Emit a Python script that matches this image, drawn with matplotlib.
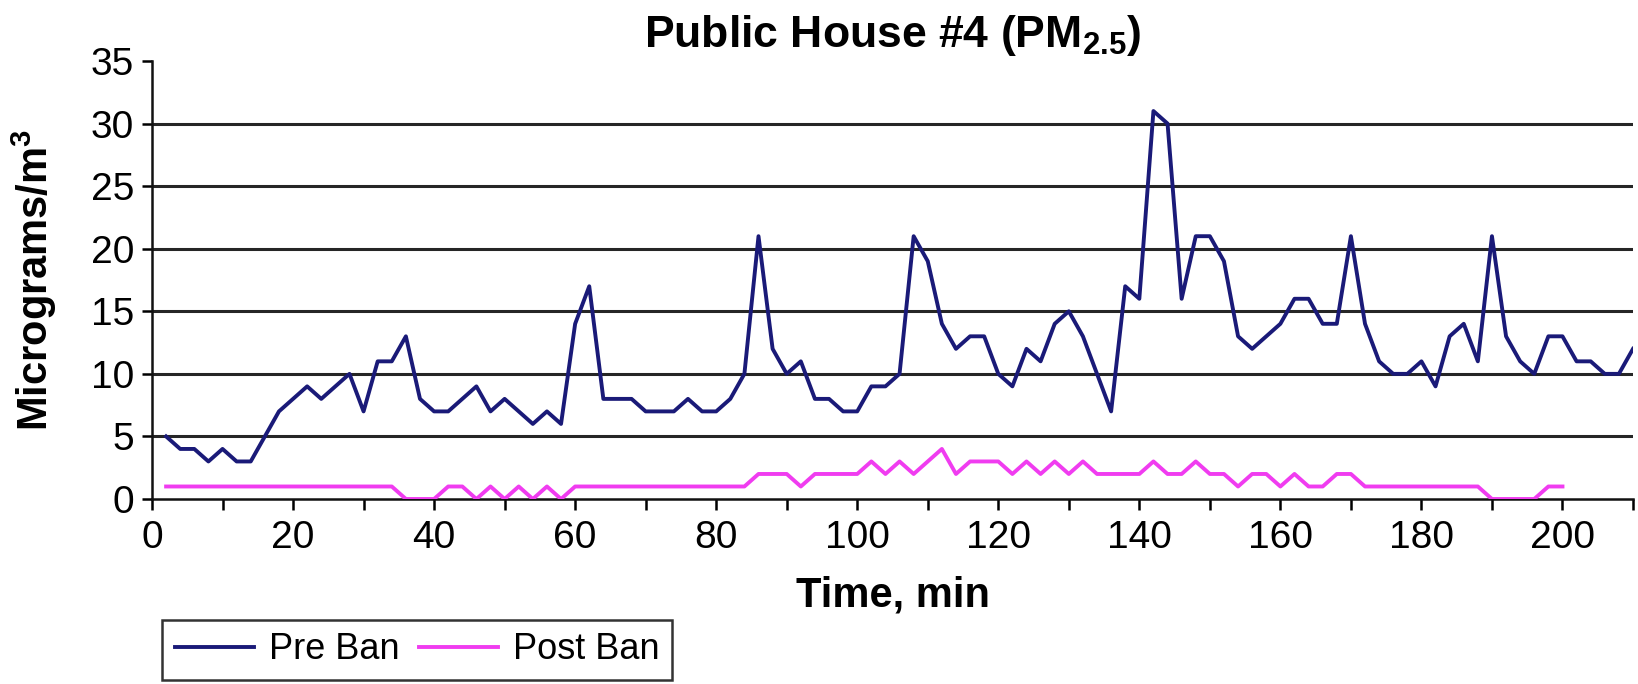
import numpy as np
import matplotlib
matplotlib.use('Agg')
import matplotlib.pyplot as plt

plt.rcParams['font.family'] = ['Liberation Sans', 'DejaVu Sans']
plt.rcParams['mathtext.fontset'] = 'custom'
plt.rcParams['mathtext.rm'] = 'Liberation Sans'
plt.rcParams['mathtext.bf'] = 'Liberation Sans:bold'

# readings every 2 min
pre_ban = [5, 4, 4, 3, 4, 3, 3, 5, 7, 8, 9, 8, 9, 10, 7, 11, 11, 13, 8, 7,
           7, 8, 9, 7, 8, 7, 6, 7, 6, 14, 17, 8, 8, 8, 7, 7, 7, 8, 7, 7,
           8, 10, 21, 12, 10, 11, 8, 8, 7, 7, 9, 9, 10, 21, 19, 14, 12, 13, 13, 10,
           9, 12, 11, 14, 15, 13, 10, 7, 17, 16, 31, 30, 16, 21, 21, 19, 13, 12, 13, 14,
           16, 16, 14, 14, 21, 14, 11, 10, 10, 11, 9, 13, 14, 11, 21, 13, 11, 10, 13, 13,
           11, 11, 10, 10, 12]
post_ban = [1, 1, 1, 1, 1, 1, 1, 1, 1, 1, 1, 1, 1, 1, 1, 1, 1, 0, 0, 0,
            1, 1, 0, 1, 0, 1, 0, 1, 0, 1, 1, 1, 1, 1, 1, 1, 1, 1, 1, 1,
            1, 1, 2, 2, 2, 1, 2, 2, 2, 2, 3, 2, 3, 2, 3, 4, 2, 3, 3, 3,
            2, 3, 2, 3, 2, 3, 2, 2, 2, 2, 3, 2, 2, 3, 2, 2, 1, 2, 2, 1,
            2, 1, 1, 2, 2, 1, 1, 1, 1, 1, 1, 1, 1, 1, 0, 0, 0, 0, 1, 1]
t_pre = np.arange(1, len(pre_ban) + 1) * 2
t_post = np.arange(1, len(post_ban) + 1) * 2

fig = plt.figure(figsize=(16.38, 6.84), dpi=100)
ax = fig.add_axes([152/1638, 1 - 499/684, 1481/1638, 438/684])

ax.plot(t_pre, pre_ban, color='#1a1a78', lw=2.8, label='Pre Ban', zorder=3)
ax.plot(t_post, post_ban, color='#f03cf0', lw=2.8, label='Post Ban', zorder=3)

ax.set_xlim(0, 210)
ax.set_ylim(0, 35)
ax.set_xticks(range(0, 201, 20))
ax.set_xticks(range(10, 211, 20), minor=True)
ax.set_yticks(range(0, 36, 5))
for y in range(5, 31, 5):
    ax.axhline(y, color='#262626', lw=2.2, zorder=1)

for s in ['top', 'right']:
    ax.spines[s].set_visible(False)
for s in ['left', 'bottom']:
    ax.spines[s].set_linewidth(1.8)
    ax.spines[s].set_color('#111111')

ax.tick_params(axis='x', which='both', direction='out', length=8, width=1.8, pad=7, labelsize=28)
ax.tick_params(axis='y', direction='out', length=7, width=1.8, pad=6, labelsize=28)

ax.set_title('Public House #4 (PM$_{\\mathbf{2.5}}$)', fontsize=32, fontweight='bold', pad=10)
ax.set_xlabel('Time, min', fontsize=30, fontweight='bold')
ax.xaxis.set_label_coords(0.5, -0.175)
ax.set_ylabel('Micrograms/m$^{\\mathbf{3}}$', fontsize=30, fontweight='bold')
ax.yaxis.set_label_coords(-0.063, 0.5)

leg = ax.legend(loc='lower left', bbox_to_anchor=(162/1638, 4/684), bbox_transform=fig.transFigure,
                ncol=2, fontsize=26, frameon=True, fancybox=False, borderpad=0.35,
                handlelength=2.2, handletextpad=0.4, columnspacing=0.55, borderaxespad=0)
leg.get_frame().set_edgecolor('black')
leg.get_frame().set_linewidth(1.8)

fig.savefig('out.png', dpi=100)
